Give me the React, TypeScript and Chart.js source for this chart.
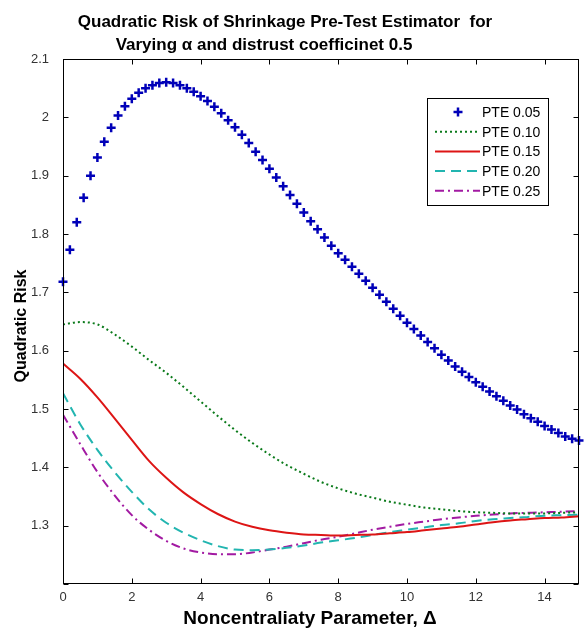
import React, { useEffect, useRef } from "react";
import { Chart, registerables } from "chart.js";

Chart.register(...registerables);

// ---------- data ----------
const xTickValues = [0, 2, 4, 6, 8, 10, 12, 14];
const yTickValues = [1.2, 1.3, 1.4, 1.5, 1.6, 1.7, 1.8, 1.9, 2.0, 2.1];
const yLabelValues = [1.3, 1.4, 1.5, 1.6, 1.7, 1.8, 1.9, 2.0, 2.1];

const seriesLabels = ["PTE 0.05", "PTE 0.10", "PTE 0.15", "PTE 0.20", "PTE 0.25"];

const deltaMarkers = [
  0.0, 0.2, 0.4, 0.6, 0.8, 1.0, 1.2, 1.4, 1.6, 1.8, 2.0, 2.2, 2.4, 2.6, 2.8, 3.0, 3.2, 3.4, 3.6, 3.8,
  4.0, 4.2, 4.4, 4.6, 4.8, 5.0, 5.2, 5.4, 5.6, 5.8, 6.0, 6.2, 6.4, 6.6, 6.8, 7.0, 7.2, 7.4, 7.6, 7.8,
  8.0, 8.2, 8.4, 8.6, 8.8, 9.0, 9.2, 9.4, 9.6, 9.8, 10.0, 10.2, 10.4, 10.6, 10.8, 11.0, 11.2, 11.4, 11.6, 11.8,
  12.0, 12.2, 12.4, 12.6, 12.8, 13.0, 13.2, 13.4, 13.6, 13.8, 14.0, 14.2, 14.4, 14.6, 14.8, 15.0,
];
const pte005 = [
  1.718, 1.773, 1.82, 1.862, 1.9, 1.931, 1.958, 1.982, 2.003, 2.019, 2.032, 2.042, 2.05, 2.055, 2.059, 2.06, 2.059, 2.055, 2.05, 2.044,
  2.036, 2.028, 2.018, 2.007, 1.995, 1.983, 1.97, 1.956, 1.941, 1.927, 1.912, 1.897, 1.882, 1.867, 1.852, 1.837, 1.822, 1.808, 1.794, 1.78,
  1.767, 1.756, 1.744, 1.732, 1.72, 1.708, 1.696, 1.684, 1.672, 1.66, 1.648, 1.637, 1.626, 1.615, 1.604, 1.593, 1.583, 1.573, 1.564, 1.555,
  1.546, 1.538, 1.53, 1.522, 1.514, 1.506, 1.499, 1.491, 1.484, 1.478, 1.471, 1.465, 1.459, 1.453, 1.449, 1.446,
];

const deltaCurve = [
  0, 0.5, 1, 1.5, 2, 2.5, 3, 3.5, 4, 4.5, 5, 5.5, 6, 6.5, 7, 7.5, 8, 8.5, 9, 9.5, 10, 10.5, 11, 11.5, 12, 12.5, 13, 13.5, 14, 14.5, 15,
];
const pte010 = [
  1.645, 1.649, 1.645, 1.628, 1.607, 1.584, 1.562, 1.538, 1.513, 1.488, 1.464, 1.442, 1.422, 1.404, 1.389, 1.375,
  1.364, 1.355, 1.348, 1.341, 1.336, 1.331, 1.328, 1.325, 1.323, 1.322, 1.321, 1.321, 1.321, 1.322, 1.323,
];
const pte015 = [
  1.578, 1.552, 1.52, 1.484, 1.447, 1.411, 1.382, 1.357, 1.337, 1.32, 1.307, 1.298, 1.292, 1.288, 1.285, 1.284,
  1.283, 1.284, 1.285, 1.287, 1.289, 1.292, 1.295, 1.298, 1.302, 1.306, 1.309, 1.311, 1.313, 1.314, 1.316,
];
const pte020 = [
  1.527, 1.474, 1.43, 1.392, 1.358, 1.328, 1.305, 1.288, 1.275, 1.265, 1.259, 1.258, 1.259, 1.262, 1.266, 1.271,
  1.275, 1.279, 1.284, 1.289, 1.293, 1.297, 1.301, 1.304, 1.308, 1.311, 1.313, 1.315, 1.317, 1.318, 1.319,
];
const pte025 = [
  1.49, 1.44, 1.392, 1.352, 1.318, 1.293, 1.274, 1.261, 1.254, 1.251, 1.251, 1.254, 1.259, 1.264, 1.27, 1.276,
  1.281, 1.287, 1.293, 1.298, 1.303, 1.307, 1.311, 1.314, 1.317, 1.319, 1.321, 1.322, 1.323, 1.324, 1.325,
];

// ---------- styles ----------
const FONT = '"Liberation Sans", Arial, Helvetica, sans-serif';
const colors = ["#0000b8", "#0a7a1a", "#dd1515", "#22b5b0", "#a21aa2"];
const dashes: number[][] = [[], [2, 3], [], [10, 6], [9, 4, 2, 4]];

const toPts = (xs: number[], ys: number[]) => xs.map((x, i) => ({ x, y: ys[i] }));

const decoPlugin = {
  id: "deco",
  afterDraw(chart: any) {
    const ctx: CanvasRenderingContext2D = chart.ctx;
    const { left, right, top, bottom } = chart.chartArea;
    const xs = chart.scales.x;
    const ys = chart.scales.y;
    ctx.save();

    // axes box
    ctx.strokeStyle = "#000";
    ctx.lineWidth = 1;
    ctx.setLineDash([]);
    const L = Math.round(left) + 0.5;
    const R = Math.round(right) - 0.5;
    const T = Math.round(top) + 0.5;
    const B = Math.round(bottom) - 0.5;
    ctx.strokeRect(L, T, R - L, B - T);

    // inward ticks
    const tl = 5;
    ctx.beginPath();
    xTickValues.forEach((v) => {
      const px = Math.round(xs.getPixelForValue(v)) + 0.5;
      ctx.moveTo(px, B);
      ctx.lineTo(px, B - tl);
      ctx.moveTo(px, T);
      ctx.lineTo(px, T + tl);
    });
    yTickValues.forEach((v) => {
      const py = Math.round(ys.getPixelForValue(v)) + 0.5;
      ctx.moveTo(L, py);
      ctx.lineTo(L + tl, py);
      ctx.moveTo(R, py);
      ctx.lineTo(R - tl, py);
    });
    ctx.stroke();

    // title
    ctx.fillStyle = "#000";
    ctx.textAlign = "center";
    ctx.textBaseline = "alphabetic";
    ctx.font = `bold 17px ${FONT}`;
    ctx.fillText("Quadratic Risk of Shrinkage Pre-Test Estimator  for", 285, 27);
    ctx.fillText("Varying \u03b1 and distrust coefficinet 0.5", 264, 50);

    // x label
    ctx.font = `bold 19px ${FONT}`;
    ctx.fillText("Noncentraliaty Parameter, \u0394", 310, 624);

    // y label
    ctx.save();
    ctx.translate(22, 326);
    ctx.rotate(-Math.PI / 2);
    ctx.font = `bold 16px ${FONT}`;
    ctx.textBaseline = "middle";
    ctx.fillText("Quadratic Risk", 0, 0);
    ctx.restore();

    // legend
    const bx = 427.5, by = 98.5, bw = 121, bh = 107;
    ctx.fillStyle = "#fff";
    ctx.fillRect(bx, by, bw, bh);
    ctx.strokeStyle = "#000";
    ctx.lineWidth = 1;
    ctx.strokeRect(bx, by, bw, bh);
    ctx.font = `14px ${FONT}`;
    ctx.textAlign = "left";
    ctx.textBaseline = "middle";
    seriesLabels.forEach((lab, i) => {
      const yy = 112 + i * 19.7;
      ctx.strokeStyle = colors[i];
      ctx.lineWidth = 2;
      if (i === 0) {
        ctx.setLineDash([]);
        ctx.lineWidth = 2.5;
        ctx.beginPath();
        ctx.moveTo(453.5, yy);
        ctx.lineTo(462.5, yy);
        ctx.moveTo(458, yy - 4.5);
        ctx.lineTo(458, yy + 4.5);
        ctx.stroke();
      } else {
        ctx.setLineDash(dashes[i]);
        ctx.beginPath();
        ctx.moveTo(435, yy);
        ctx.lineTo(480, yy);
        ctx.stroke();
      }
      ctx.setLineDash([]);
      ctx.fillStyle = "#000";
      ctx.fillText(lab, 482, yy + 1);
    });

    ctx.restore();
  },
};

export default function App() {
  const ref = useRef<HTMLCanvasElement | null>(null);

  useEffect(() => {
    if (!ref.current) return;
    const lineSets = [pte010, pte015, pte020, pte025].map((ys, k) => {
      const i = k + 1;
      return {
        label: seriesLabels[i],
        data: toPts(deltaCurve, ys),
        showLine: true,
        borderColor: colors[i],
        backgroundColor: colors[i],
        borderWidth: 2,
        borderDash: dashes[i],
        pointRadius: 0,
        cubicInterpolationMode: "monotone" as const,
        order: 2,
      };
    });
    const chart = new Chart(ref.current, {
      type: "scatter",
      data: {
        datasets: [
          {
            label: seriesLabels[0],
            data: toPts(deltaMarkers, pte005),
            showLine: false,
            pointStyle: "cross",
            pointRadius: 4.5,
            pointBorderWidth: 2.5,
            borderColor: colors[0],
            backgroundColor: colors[0],
            clip: false as any,
            order: 1,
          },
          ...lineSets,
        ] as any,
      },
      options: {
        animation: false,
        responsive: false,
        devicePixelRatio: 1,
        layout: { padding: { left: 0, top: 59, right: 3, bottom: 0 } },
        plugins: {
          legend: { display: false },
          tooltip: { enabled: false },
          title: { display: false },
        },
        scales: {
          x: {
            type: "linear",
            min: 0,
            max: 15,
            afterBuildTicks: (s: any) => {
              s.ticks = xTickValues.map((v) => ({ value: v }));
            },
            afterFit: (s: any) => {
              s.height = 45;
            },
            grid: { display: false, drawTicks: false },
            border: { display: false },
            ticks: {
              autoSkip: false,
              maxRotation: 0,
              padding: 6,
              color: "#333",
              font: { family: FONT, size: 13 },
              callback: (v: any) => String(v),
            },
          },
          y: {
            type: "linear",
            min: 1.2,
            max: 2.1,
            afterBuildTicks: (s: any) => {
              s.ticks = yLabelValues.map((v) => ({ value: v }));
            },
            afterFit: (s: any) => {
              s.width = 63;
            },
            grid: { display: false, drawTicks: false },
            border: { display: false },
            ticks: {
              autoSkip: false,
              padding: 14,
              color: "#333",
              font: { family: FONT, size: 13 },
              callback: (v: any) => String(+Number(v).toFixed(1)),
            },
          },
        },
      },
      plugins: [decoPlugin],
    });
    return () => chart.destroy();
  }, []);

  return (
    <div style={{ position: "absolute", left: 0, top: 0, width: 586, height: 629, background: "#fff" }}>
      <canvas ref={ref} width={586} height={629} style={{ display: "block", width: 586, height: 629 }} />
    </div>
  );
}
